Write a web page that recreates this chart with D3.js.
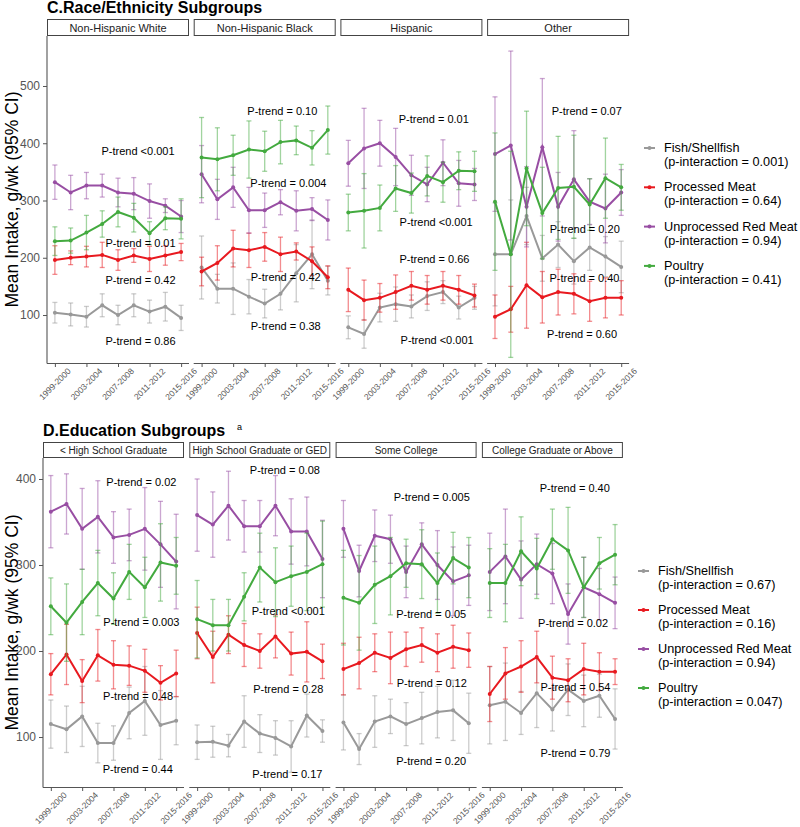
<!DOCTYPE html>
<html><head><meta charset="utf-8">
<script src="https://cdn.jsdelivr.net/npm/d3@7"></script>
<style>body{margin:0;background:#fff} svg{font-family:"Liberation Sans",Arial,Helvetica,sans-serif}</style>
</head><body><svg id="c" width="800" height="827"></svg>
<script>
const periods = ["1999-2000","2001-2002","2003-2004","2005-2006","2007-2008","2009-2010","2011-2012","2013-2014","2015-2016"];
const tickLabels = ["1999-2000","2003-2004","2007-2008","2011-2012","2015-2016"];
const foods = ["Fish/Shellfish","Processed Meat","Unprocessed Red Meat","Poultry"];
const foodColors = ["#999999","#E8191F","#984EA3","#43AA3F"];

// ---- C. Race/Ethnicity ----
const raceGroups = ["Non-Hispanic White","Non-Hispanic Black","Hispanic","Other"];
const raceInteraction = ["0.001","0.64","0.94","0.41"];
const raceFish = [
  [104,101,97,117,100,117,106,114.5,95],
  [183,146,146,132,120,137,173,206,160],
  [78.5,67,113,119,115,133,140,113,130],
  [206,206,273,199,223,194,218,202,184]];
const raceFishErr = [
  [18,20,18,20,17,20,20,25,22],
  [55,25,45,30,25,28,50,60,25],
  [20,25,25,30,20,25,20,20,20],
  [90,95,50,40,40,40,40,35,45]];
const raceProc = [
  [196,200,202,205,196,204,198,204,210],
  [176,191,216,213,219,206,211,194,166],
  [144,126,130,140,151,144,151,144,134],
  [97,110,152,131,140,137,124,130,130]];
const raceProcErr = [
  [25,12,18,22,18,12,22,17,15],
  [25,30,32,30,25,30,15,25,20],
  [38,35,25,30,25,25,25,25,20],
  [38,40,75,45,40,35,35,35,30]];
const raceRed = [
  [332,314,326,326,314,312,299,291,272],
  [346,302,323,283,283,297,282,285,266],
  [365,391,400,376,344,328,366,330,328],
  [381,396,289,393,289,337,298,286,314]];
const raceRedErr = [
  [30,30,23,20,25,28,30,12,28],
  [50,35,35,40,30,22,35,20,35],
  [40,70,40,50,35,30,40,40,28],
  [100,165,70,120,60,85,40,60,40]];
const racePoul = [
  [229,230,244,259,280,270,243,269,268],
  [375,372,379,389,386,402,405,392,423],
  [279,282,287,321,313,343,332,352,351],
  [298,206,356,278,322,324,293,339,323]];
const racePoulErr = [
  [25,22,30,23,26,25,20,20,35],
  [70,55,35,50,35,38,25,30,42],
  [32,65,40,40,35,35,35,33,35],
  [120,180,100,80,90,90,45,70,40]];
const racePtrendLabels = [
  ["P-trend <0.001","P-trend = 0.01","P-trend = 0.42","P-trend = 0.86"],
  ["P-trend = 0.10","P-trend = 0.004","P-trend = 0.42","P-trend = 0.38"],
  ["P-trend = 0.01","P-trend <0.001","P-trend = 0.66","P-trend <0.001"],
  ["P-trend = 0.07","P-trend = 0.20","P-trend = 0.40","P-trend = 0.60"]];
const racePtrendAt = [
  [[5.27,386],[5.43,225],[5.43,161],[5.43,55]],
  [[5.12,457],[5.5,330],[5.33,167],[5.33,81]],
  [[5.42,442],[5.57,263],[5.46,198],[5.63,56]],
  [[5.82,456],[5.69,250],[5.67,165],[5.52,67]]];

// ---- D. Education ----
const eduGroups = ["< High School Graduate","High School Graduate or GED","Some College","College Graduate or Above"];
const eduInteraction = ["0.67","0.16","0.94","0.047"];
const eduFish = [
  [115,109,124,93,93,128,142,114,119],
  [94,94.5,90,118,104,99,89,125,107],
  [117,86,118,124,115,122,129,131,116],
  [137,141,128,151,132,155,142,148,121]];
const eduFishErr = [
  [28,27,35,23,20,30,40,40,28],
  [20,18,13,30,22,20,30,25,13],
  [32,18,30,20,25,30,30,35,35],
  [45,45,25,40,25,30,30,25,35]];
const eduProc = [
  [173,196,165,195,184,183,177,163,174],
  [221,193,219,207,200,217,197,199,188],
  [179,186,198,192,202,207,198,205,201],
  [150,174,182,193,169,166,179,176,176]];
const eduProcErr = [
  [24,35,25,30,28,23,25,20,27],
  [30,30,22,25,20,25,25,35,20],
  [30,30,22,30,20,20,22,25,20],
  [32,30,30,30,25,25,30,22,15]];
const eduRed = [
  [362,371,342,356,332,335,342,324,304],
  [358,347,369,345,345,369,339,339,307],
  [342,293,334,330,292,324,300,281,288],
  [292,310,283,301,290,243,274,266,256]];
const eduRedErr = [
  [42,35,47,42,30,30,48,50,55],
  [42,38,40,30,30,35,38,40,45],
  [33,30,30,28,30,25,40,40,35],
  [45,55,45,35,35,35,35,30,30]];
const eduPoul = [
  [252,233,257,279,261,292,274,303,299],
  [237,230,230,263,297,280,287,292,301],
  [262,256,277,287,302,301,279,308,297],
  [279,279,316,296,330,317,274,302,312]];
const eduPoulErr = [
  [33,45,38,38,30,32,35,45,33],
  [45,30,30,28,40,40,35,45,50],
  [55,55,45,45,28,40,35,30,35],
  [40,45,40,35,35,50,35,30,35]];
const eduPtrendLabels = [
  ["P-trend = 0.02","P-trend = 0.003","P-trend = 0.48","P-trend = 0.44"],
  ["P-trend = 0.08","P-trend <0.001","P-trend = 0.28","P-trend = 0.17"],
  ["P-trend = 0.005","P-trend = 0.05","P-trend = 0.12","P-trend = 0.20"],
  ["P-trend = 0.40","P-trend = 0.02","P-trend = 0.54","P-trend = 0.79"]];
const eduPtrendAt = [
  [[5.78,396],[5.78,234],[5.57,148],[5.55,63]],
  [[5.6,410],[5.82,246],[5.82,156],[5.76,57]],
  [[5.64,379],[5.6,243],[5.64,163],[5.6,72]],
  [[5.43,389],[5.32,232],[5.47,158],[5.47,82]]];

const svg = d3.select("#c");

function drawChart(cfg){
  const g = svg.append("g");
  g.append("text").attr("x",cfg.titleX).attr("y",cfg.titleY).attr("font-size",16).attr("font-weight","bold").attr("fill","#000").text(cfg.title);
  if(cfg.sup){ g.append("text").attr("x",cfg.supX).attr("y",cfg.titleY-6).attr("font-size",9).text(cfg.sup); }
  const y = d3.scaleLinear().domain(cfg.yDomain).range([cfg.plotBottom, cfg.plotTop]);
  const ya = g.append("g").attr("transform",`translate(${cfg.x0},0)`)
    .call(d3.axisLeft(y).tickValues(cfg.yTicks).tickSize(4).tickPadding(3));
  ya.select(".domain").remove();
  ya.selectAll(".tick line").attr("stroke","#555");
  ya.selectAll(".tick text").attr("font-size",12).attr("fill","#555").attr("font-family","inherit");
  g.append("line").attr("x1",cfg.x0).attr("x2",cfg.x0).attr("y1",cfg.plotTop).attr("y2",cfg.plotBottom+0.5).attr("stroke","#555").attr("stroke-width",1.1);
  g.append("text").attr("transform",`translate(18,${(cfg.plotTop+cfg.plotBottom)/2}) rotate(-90)`)
    .attr("text-anchor","middle").attr("font-size",17.5).attr("fill","#000").text("Mean Intake, g/wk (95% CI)");

  cfg.groups.forEach((grp,p)=>{
    const px = cfg.x0 + p*cfg.step;
    const pg = g.append("g").attr("transform",`translate(${px},0)`);
    pg.append("rect").attr("x",0.5).attr("y",cfg.stripTop+0.5).attr("width",cfg.panelW-1).attr("height",cfg.stripH)
      .attr("fill","#fff").attr("stroke","#444").attr("stroke-width",1);
    pg.append("text").attr("x",cfg.panelW/2).attr("y",cfg.stripTop+cfg.stripH/2+1).attr("text-anchor","middle")
      .attr("dominant-baseline","central").attr("font-size",cfg.stripFont).attr("fill","#222").text(grp);
    const x = d3.scalePoint().domain(periods).range([0,cfg.panelW]).padding(0.5);
    const xi = d3.scaleLinear().domain([-0.5,8.5]).range([0,cfg.panelW]);
    const xa = pg.append("g").attr("transform",`translate(0,${cfg.plotBottom})`)
      .call(d3.axisBottom(x).tickValues(tickLabels).tickSize(4).tickFormat(()=>""));
    xa.select(".domain").attr("stroke","#555").attr("stroke-width",1.1).attr("d",`M0,0.5H${cfg.panelW}`);
    xa.selectAll(".tick line").attr("stroke","#555");
    tickLabels.forEach(t=>{
      pg.append("text").attr("transform",`translate(${x(t)},${cfg.plotBottom+21}) rotate(-45)`)
        .attr("text-anchor","middle").attr("dominant-baseline","central").attr("font-size",8.5).attr("fill","#555").text(t);
    });
    cfg.series.forEach((s,k)=>{
      const col = foodColors[k];
      const vals = s.mean[p], errs = s.err[p];
      const pts = periods.map((per,i)=>({x:x(per), m:vals[i], lo:vals[i]-errs[i], hi:vals[i]+errs[i]}));
      const eb = pg.append("g").attr("stroke",col).attr("stroke-opacity",0.5).attr("stroke-width",1.3);
      pts.forEach(d=>{
        eb.append("line").attr("x1",d.x).attr("x2",d.x).attr("y1",y(d.lo)).attr("y2",y(d.hi));
        eb.append("line").attr("x1",d.x-2.5).attr("x2",d.x+2.5).attr("y1",y(d.lo)).attr("y2",y(d.lo));
        eb.append("line").attr("x1",d.x-2.5).attr("x2",d.x+2.5).attr("y1",y(d.hi)).attr("y2",y(d.hi));
      });
      pg.append("path").datum(pts).attr("fill","none").attr("stroke",col).attr("stroke-width",2)
        .attr("d",d3.line().x(d=>d.x).y(d=>y(d.m)));
      pg.selectAll(null).data(pts).enter().append("circle").attr("cx",d=>d.x).attr("cy",d=>y(d.m)).attr("r",2).attr("fill",col);
    });
    cfg.ptLabels[p].forEach((t,j)=>{
      const at = cfg.ptAt[p][j];
      pg.append("text").attr("x",xi(at[0])).attr("y",y(at[1])).attr("text-anchor","middle")
        .attr("dominant-baseline","central").attr("font-size",11).attr("fill","#000").text(t);
    });
  });

  const lg = g.append("g");
  foods.forEach((f,k)=>{
    const yy = cfg.legendY + k*cfg.legendGap;
    lg.append("line").attr("x1",cfg.legendX).attr("x2",cfg.legendX+11).attr("y1",yy).attr("y2",yy).attr("stroke",foodColors[k]).attr("stroke-width",2);
    lg.append("circle").attr("cx",cfg.legendX+5.5).attr("cy",yy).attr("r",2).attr("fill",foodColors[k]);
    lg.append("text").attr("x",cfg.legendX+20).attr("y",yy).attr("dominant-baseline","central").attr("font-size",12.7).attr("fill","#000").text(f);
    lg.append("text").attr("x",cfg.legendX+20).attr("y",yy+14).attr("dominant-baseline","central").attr("font-size",12.7).attr("fill","#000")
      .text(`(p-interaction = ${cfg.interaction[k]})`);
  });
}

drawChart({
  title:"C.Race/Ethnicity Subgroups", titleX:47, titleY:13,
  stripTop:19, stripH:16, stripFont:11, plotTop:36, plotBottom:363,
  x0:47, panelW:142, step:146.7, yDomain:[16.2,587.3], yTicks:[100,200,300,400,500],
  groups:raceGroups, interaction:raceInteraction,
  series:[{mean:raceFish,err:raceFishErr},{mean:raceProc,err:raceProcErr},{mean:raceRed,err:raceRedErr},{mean:racePoul,err:racePoulErr}],
  ptLabels:racePtrendLabels, ptAt:racePtrendAt,
  legendX:644, legendY:148, legendGap:39.3
});
drawChart({
  title:"D.Education Subgroups", titleX:43, titleY:436, sup:"a", supX:237,
  stripTop:442, stripH:15, stripFont:10, plotTop:458, plotBottom:787,
  x0:43, panelW:141, step:146.3, yDomain:[41.9,424.4], yTicks:[100,200,300,400],
  groups:eduGroups, interaction:eduInteraction,
  series:[{mean:eduFish,err:eduFishErr},{mean:eduProc,err:eduProcErr},{mean:eduRed,err:eduRedErr},{mean:eduPoul,err:eduPoulErr}],
  ptLabels:eduPtrendLabels, ptAt:eduPtrendAt,
  legendX:638, legendY:571, legendGap:39
});
</script></body></html>
